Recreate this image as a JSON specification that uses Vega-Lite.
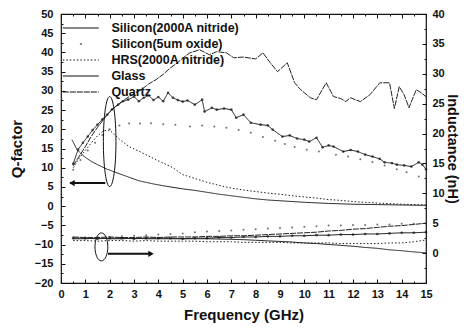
{
  "$schema": "https://vega.github.io/schema/vega-lite/v6.json",
  "width": 365,
  "height": 269,
  "autosize": {"type": "none"},
  "padding": {"left": 61, "top": 14, "right": 43, "bottom": 50},
  "background": "white",
  "config": {
    "view": {"stroke": "#111", "strokeWidth": 1.2},
    "font": "Liberation Sans",
    "axis": {
      "labelFont": "Liberation Sans", "labelFontWeight": "bold", "labelFontSize": 11, "labelColor": "#111",
      "titleFont": "Liberation Sans", "titleFontWeight": "bold", "titleFontSize": 15, "titleColor": "#111",
      "grid": false, "domain": false, "tickColor": "#111", "tickWidth": 1,
      "tickSize": {"condition": {"test": "datum.value % 1 !== 0 || (datum.value % 5 !== 0 && abs(datum.value) > 16)", "value": -2}, "value": -4}
    }
  },
  "datasets": {
    "q": [
      {"s":"Quartz","f":0.5,"v":10.5},{"s":"Quartz","f":0.75,"v":13},{"s":"Quartz","f":1,"v":15.5},{"s":"Quartz","f":1.25,"v":18.2},{"s":"Quartz","f":1.5,"v":20.5},{"s":"Quartz","f":1.75,"v":22.6},{"s":"Quartz","f":2,"v":24.5},{"s":"Quartz","f":2.25,"v":26},{"s":"Quartz","f":2.5,"v":27.2},{"s":"Quartz","f":2.75,"v":28.3},{"s":"Quartz","f":3,"v":29.3},{"s":"Quartz","f":3.3,"v":30.3},{"s":"Quartz","f":3.6,"v":31.8},{"s":"Quartz","f":3.9,"v":32.9},{"s":"Quartz","f":4.2,"v":34.3},{"s":"Quartz","f":4.5,"v":36},{"s":"Quartz","f":4.8,"v":37.4},{"s":"Quartz","f":5,"v":38.5},{"s":"Quartz","f":5.3,"v":39.9},{"s":"Quartz","f":5.7,"v":40.7},{"s":"Quartz","f":6.1,"v":39.4},{"s":"Quartz","f":6.4,"v":40.2},{"s":"Quartz","f":6.8,"v":39.9},{"s":"Quartz","f":7.1,"v":38.6},{"s":"Quartz","f":7.5,"v":38.8},{"s":"Quartz","f":8,"v":38.3},{"s":"Quartz","f":8.3,"v":39.9},{"s":"Quartz","f":8.6,"v":37.3},{"s":"Quartz","f":8.9,"v":35},{"s":"Quartz","f":9.3,"v":37.3},{"s":"Quartz","f":9.6,"v":32.1},{"s":"Quartz","f":9.85,"v":30.3},{"s":"Quartz","f":10.25,"v":28.2},{"s":"Quartz","f":10.5,"v":27.7},{"s":"Quartz","f":10.9,"v":32.1},{"s":"Quartz","f":11.2,"v":28.5},{"s":"Quartz","f":11.5,"v":28},{"s":"Quartz","f":11.7,"v":27.2},{"s":"Quartz","f":11.9,"v":28.2},{"s":"Quartz","f":12.3,"v":27.2},{"s":"Quartz","f":12.7,"v":29},{"s":"Quartz","f":13.1,"v":32.1},{"s":"Quartz","f":13.5,"v":32.1},{"s":"Quartz","f":13.7,"v":25.4},{"s":"Quartz","f":13.9,"v":31.1},{"s":"Quartz","f":14.1,"v":29},{"s":"Quartz","f":14.3,"v":25.6},{"s":"Quartz","f":14.6,"v":30.3},{"s":"Quartz","f":14.8,"v":29.5},{"s":"Quartz","f":15,"v":28.5},
      {"s":"Glass","f":0.5,"v":11},{"s":"Glass","f":0.7,"v":14.7},{"s":"Glass","f":0.9,"v":16.5},{"s":"Glass","f":1.1,"v":18.1},{"s":"Glass","f":1.3,"v":19.8},{"s":"Glass","f":1.5,"v":21.2},{"s":"Glass","f":1.7,"v":22.6},{"s":"Glass","f":1.9,"v":23.8},{"s":"Glass","f":2.1,"v":25.2},{"s":"Glass","f":2.35,"v":26.4},{"s":"Glass","f":2.55,"v":27.3},{"s":"Glass","f":2.76,"v":27.7},{"s":"Glass","f":3,"v":28.5},{"s":"Glass","f":3.2,"v":27.3},{"s":"Glass","f":3.4,"v":28.2},{"s":"Glass","f":3.6,"v":28.8},{"s":"Glass","f":3.8,"v":27.6},{"s":"Glass","f":4,"v":28.4},{"s":"Glass","f":4.2,"v":27.3},{"s":"Glass","f":4.4,"v":29.5},{"s":"Glass","f":4.6,"v":28.2},{"s":"Glass","f":4.8,"v":27.6},{"s":"Glass","f":5,"v":27.2},{"s":"Glass","f":5.2,"v":27.5},{"s":"Glass","f":5.5,"v":26.4},{"s":"Glass","f":5.8,"v":27.7},{"s":"Glass","f":5.9,"v":24.6},{"s":"Glass","f":6.2,"v":25.6},{"s":"Glass","f":6.4,"v":25.1},{"s":"Glass","f":6.7,"v":25.4},{"s":"Glass","f":7,"v":25.1},{"s":"Glass","f":7.2,"v":23},{"s":"Glass","f":7.5,"v":23.8},{"s":"Glass","f":7.8,"v":21.7},{"s":"Glass","f":8.2,"v":21.2},{"s":"Glass","f":8.5,"v":21},{"s":"Glass","f":8.7,"v":19.9},{"s":"Glass","f":9.1,"v":18.1},{"s":"Glass","f":9.4,"v":18.4},{"s":"Glass","f":9.7,"v":17.6},{"s":"Glass","f":10,"v":17.3},{"s":"Glass","f":10.2,"v":16.8},{"s":"Glass","f":10.5,"v":17.8},{"s":"Glass","f":10.75,"v":15.3},{"s":"Glass","f":11,"v":15.8},{"s":"Glass","f":11.2,"v":15.5},{"s":"Glass","f":11.6,"v":14.2},{"s":"Glass","f":11.9,"v":14.6},{"s":"Glass","f":12.2,"v":14.2},{"s":"Glass","f":12.5,"v":13.4},{"s":"Glass","f":12.8,"v":12.9},{"s":"Glass","f":13.1,"v":12.3},{"s":"Glass","f":13.3,"v":11.4},{"s":"Glass","f":13.6,"v":11.2},{"s":"Glass","f":13.8,"v":10.8},{"s":"Glass","f":14.1,"v":10.6},{"s":"Glass","f":14.4,"v":10.3},{"s":"Glass","f":14.7,"v":11.4},{"s":"Glass","f":14.85,"v":10.8},{"s":"Glass","f":15,"v":9.6},
      {"s":"HRS(2000A nitride)","f":0.5,"v":10},{"s":"HRS(2000A nitride)","f":0.75,"v":12.5},{"s":"HRS(2000A nitride)","f":1,"v":14.5},{"s":"HRS(2000A nitride)","f":1.25,"v":16.5},{"s":"HRS(2000A nitride)","f":1.5,"v":18.3},{"s":"HRS(2000A nitride)","f":1.75,"v":19.6},{"s":"HRS(2000A nitride)","f":2,"v":19.8},{"s":"HRS(2000A nitride)","f":2.2,"v":18.6},{"s":"HRS(2000A nitride)","f":2.4,"v":17.4},{"s":"HRS(2000A nitride)","f":2.8,"v":15.5},{"s":"HRS(2000A nitride)","f":3.3,"v":14},{"s":"HRS(2000A nitride)","f":3.9,"v":12.1},{"s":"HRS(2000A nitride)","f":4.6,"v":10},{"s":"HRS(2000A nitride)","f":5,"v":8.2},{"s":"HRS(2000A nitride)","f":5.5,"v":7.2},{"s":"HRS(2000A nitride)","f":6,"v":6.2},{"s":"HRS(2000A nitride)","f":6.5,"v":5.4},{"s":"HRS(2000A nitride)","f":7,"v":4.7},{"s":"HRS(2000A nitride)","f":7.5,"v":4.2},{"s":"HRS(2000A nitride)","f":8,"v":3.8},{"s":"HRS(2000A nitride)","f":8.5,"v":3.4},{"s":"HRS(2000A nitride)","f":9,"v":3.1},{"s":"HRS(2000A nitride)","f":9.5,"v":2.7},{"s":"HRS(2000A nitride)","f":10,"v":2.4},{"s":"HRS(2000A nitride)","f":10.5,"v":2.1},{"s":"HRS(2000A nitride)","f":11,"v":1.7},{"s":"HRS(2000A nitride)","f":11.5,"v":1.5},{"s":"HRS(2000A nitride)","f":12,"v":1.2},{"s":"HRS(2000A nitride)","f":13,"v":0.8},{"s":"HRS(2000A nitride)","f":14,"v":0.5},{"s":"HRS(2000A nitride)","f":15,"v":0.3},
      {"s":"Silicon(2000A nitride)","f":0.45,"v":17.3},{"s":"Silicon(2000A nitride)","f":0.66,"v":14.7},{"s":"Silicon(2000A nitride)","f":0.85,"v":13.5},{"s":"Silicon(2000A nitride)","f":1,"v":12.7},{"s":"Silicon(2000A nitride)","f":1.25,"v":11.6},{"s":"Silicon(2000A nitride)","f":1.5,"v":10.8},{"s":"Silicon(2000A nitride)","f":1.9,"v":9.6},{"s":"Silicon(2000A nitride)","f":2.5,"v":8.2},{"s":"Silicon(2000A nitride)","f":3.2,"v":6.6},{"s":"Silicon(2000A nitride)","f":3.7,"v":5.9},{"s":"Silicon(2000A nitride)","f":4.2,"v":5.3},{"s":"Silicon(2000A nitride)","f":5,"v":4.5},{"s":"Silicon(2000A nitride)","f":5.5,"v":4.1},{"s":"Silicon(2000A nitride)","f":6,"v":3.6},{"s":"Silicon(2000A nitride)","f":6.5,"v":3.1},{"s":"Silicon(2000A nitride)","f":7,"v":2.7},{"s":"Silicon(2000A nitride)","f":7.5,"v":2.3},{"s":"Silicon(2000A nitride)","f":8,"v":1.9},{"s":"Silicon(2000A nitride)","f":8.5,"v":1.6},{"s":"Silicon(2000A nitride)","f":9,"v":1.4},{"s":"Silicon(2000A nitride)","f":9.5,"v":1.2},{"s":"Silicon(2000A nitride)","f":10,"v":1},{"s":"Silicon(2000A nitride)","f":11,"v":0.7},{"s":"Silicon(2000A nitride)","f":12,"v":0.5},{"s":"Silicon(2000A nitride)","f":13,"v":0.4},{"s":"Silicon(2000A nitride)","f":14,"v":0.3},{"s":"Silicon(2000A nitride)","f":15,"v":0.2},
      {"s":"Silicon(5um oxide)","f":0.5,"v":9.5},{"s":"Silicon(5um oxide)","f":0.8,"v":12},{"s":"Silicon(5um oxide)","f":1.1,"v":14.5},{"s":"Silicon(5um oxide)","f":1.4,"v":16.5},{"s":"Silicon(5um oxide)","f":1.7,"v":18.5},{"s":"Silicon(5um oxide)","f":2,"v":20},{"s":"Silicon(5um oxide)","f":2.4,"v":21},{"s":"Silicon(5um oxide)","f":2.8,"v":21.5},{"s":"Silicon(5um oxide)","f":3.25,"v":21.5},{"s":"Silicon(5um oxide)","f":3.7,"v":21.6},{"s":"Silicon(5um oxide)","f":4.2,"v":21.3},{"s":"Silicon(5um oxide)","f":4.7,"v":21.2},{"s":"Silicon(5um oxide)","f":5.3,"v":20.7},{"s":"Silicon(5um oxide)","f":5.8,"v":21},{"s":"Silicon(5um oxide)","f":6.3,"v":20.7},{"s":"Silicon(5um oxide)","f":6.8,"v":20.4},{"s":"Silicon(5um oxide)","f":7.3,"v":19.8},{"s":"Silicon(5um oxide)","f":7.8,"v":19.1},{"s":"Silicon(5um oxide)","f":8.3,"v":18},{"s":"Silicon(5um oxide)","f":8.8,"v":17},{"s":"Silicon(5um oxide)","f":9.2,"v":16.2},{"s":"Silicon(5um oxide)","f":9.6,"v":15.4},{"s":"Silicon(5um oxide)","f":10.1,"v":14.7},{"s":"Silicon(5um oxide)","f":10.6,"v":14.2},{"s":"Silicon(5um oxide)","f":11.3,"v":13.4},{"s":"Silicon(5um oxide)","f":11.8,"v":12.9},{"s":"Silicon(5um oxide)","f":12.3,"v":12.2},{"s":"Silicon(5um oxide)","f":12.8,"v":11.5},{"s":"Silicon(5um oxide)","f":13.3,"v":10.6},{"s":"Silicon(5um oxide)","f":13.8,"v":9.6},{"s":"Silicon(5um oxide)","f":14.2,"v":8.8},{"s":"Silicon(5um oxide)","f":14.7,"v":7.7},{"s":"Silicon(5um oxide)","f":15,"v":7.2}
    ],
    "l": [
      {"s":"Quartz","f":0.5,"v":2.7},{"s":"Quartz","f":1,"v":2.6},{"s":"Quartz","f":1.5,"v":2.6},{"s":"Quartz","f":2,"v":2.7},{"s":"Quartz","f":2.5,"v":2.6},{"s":"Quartz","f":3,"v":2.6},{"s":"Quartz","f":3.5,"v":2.7},{"s":"Quartz","f":4,"v":2.6},{"s":"Quartz","f":4.5,"v":2.7},{"s":"Quartz","f":5,"v":2.7},{"s":"Quartz","f":5.5,"v":2.7},{"s":"Quartz","f":6,"v":2.8},{"s":"Quartz","f":6.5,"v":2.8},{"s":"Quartz","f":7,"v":2.9},{"s":"Quartz","f":7.5,"v":2.9},{"s":"Quartz","f":8,"v":3},{"s":"Quartz","f":8.5,"v":3.1},{"s":"Quartz","f":9,"v":3.2},{"s":"Quartz","f":9.5,"v":3.3},{"s":"Quartz","f":10,"v":3.4},{"s":"Quartz","f":10.5,"v":3.5},{"s":"Quartz","f":11,"v":3.7},{"s":"Quartz","f":11.5,"v":3.8},{"s":"Quartz","f":12,"v":4},{"s":"Quartz","f":12.5,"v":4.1},{"s":"Quartz","f":13,"v":4.3},{"s":"Quartz","f":13.5,"v":4.5},{"s":"Quartz","f":14,"v":4.6},{"s":"Quartz","f":14.5,"v":4.8},{"s":"Quartz","f":15,"v":5},
      {"s":"Glass","f":0.5,"v":2.5},{"s":"Glass","f":1,"v":2.5},{"s":"Glass","f":1.5,"v":2.4},{"s":"Glass","f":2,"v":2.5},{"s":"Glass","f":2.5,"v":2.5},{"s":"Glass","f":3,"v":2.4},{"s":"Glass","f":3.5,"v":2.5},{"s":"Glass","f":4,"v":2.5},{"s":"Glass","f":4.5,"v":2.5},{"s":"Glass","f":5,"v":2.4},{"s":"Glass","f":5.5,"v":2.5},{"s":"Glass","f":6,"v":2.5},{"s":"Glass","f":6.5,"v":2.6},{"s":"Glass","f":7,"v":2.6},{"s":"Glass","f":7.5,"v":2.7},{"s":"Glass","f":8,"v":2.7},{"s":"Glass","f":8.5,"v":2.8},{"s":"Glass","f":9,"v":2.8},{"s":"Glass","f":9.5,"v":2.9},{"s":"Glass","f":10,"v":2.9},{"s":"Glass","f":10.5,"v":3},{"s":"Glass","f":11,"v":3},{"s":"Glass","f":11.5,"v":3.1},{"s":"Glass","f":12,"v":3.1},{"s":"Glass","f":12.5,"v":3.2},{"s":"Glass","f":13,"v":3.2},{"s":"Glass","f":13.5,"v":3.3},{"s":"Glass","f":14,"v":3.4},{"s":"Glass","f":14.5,"v":3.4},{"s":"Glass","f":15,"v":3.5},
      {"s":"Silicon(2000A nitride)","f":0.5,"v":2.4},{"s":"Silicon(2000A nitride)","f":1,"v":2.4},{"s":"Silicon(2000A nitride)","f":1.5,"v":2.5},{"s":"Silicon(2000A nitride)","f":2,"v":2.4},{"s":"Silicon(2000A nitride)","f":2.5,"v":2.4},{"s":"Silicon(2000A nitride)","f":3,"v":2.5},{"s":"Silicon(2000A nitride)","f":3.5,"v":2.4},{"s":"Silicon(2000A nitride)","f":4,"v":2.4},{"s":"Silicon(2000A nitride)","f":4.5,"v":2.4},{"s":"Silicon(2000A nitride)","f":5,"v":2.4},{"s":"Silicon(2000A nitride)","f":5.5,"v":2.4},{"s":"Silicon(2000A nitride)","f":6,"v":2.4},{"s":"Silicon(2000A nitride)","f":6.5,"v":2.35},{"s":"Silicon(2000A nitride)","f":7,"v":2.3},{"s":"Silicon(2000A nitride)","f":7.5,"v":2.25},{"s":"Silicon(2000A nitride)","f":8,"v":2.15},{"s":"Silicon(2000A nitride)","f":8.5,"v":2.05},{"s":"Silicon(2000A nitride)","f":9,"v":1.95},{"s":"Silicon(2000A nitride)","f":9.5,"v":1.85},{"s":"Silicon(2000A nitride)","f":10,"v":1.7},{"s":"Silicon(2000A nitride)","f":10.5,"v":1.6},{"s":"Silicon(2000A nitride)","f":11,"v":1.45},{"s":"Silicon(2000A nitride)","f":11.5,"v":1.3},{"s":"Silicon(2000A nitride)","f":12,"v":1.15},{"s":"Silicon(2000A nitride)","f":12.5,"v":0.95},{"s":"Silicon(2000A nitride)","f":13,"v":0.8},{"s":"Silicon(2000A nitride)","f":13.5,"v":0.55},{"s":"Silicon(2000A nitride)","f":14,"v":0.4},{"s":"Silicon(2000A nitride)","f":14.5,"v":0.2},{"s":"Silicon(2000A nitride)","f":15,"v":0.05},
      {"s":"HRS(2000A nitride)","f":0.5,"v":2.1},{"s":"HRS(2000A nitride)","f":1,"v":2.1},{"s":"HRS(2000A nitride)","f":1.5,"v":2},{"s":"HRS(2000A nitride)","f":2,"v":2.1},{"s":"HRS(2000A nitride)","f":2.5,"v":2.1},{"s":"HRS(2000A nitride)","f":3,"v":2},{"s":"HRS(2000A nitride)","f":3.5,"v":2.1},{"s":"HRS(2000A nitride)","f":4,"v":2},{"s":"HRS(2000A nitride)","f":4.5,"v":2},{"s":"HRS(2000A nitride)","f":5,"v":2},{"s":"HRS(2000A nitride)","f":5.5,"v":2},{"s":"HRS(2000A nitride)","f":6,"v":1.9},{"s":"HRS(2000A nitride)","f":6.5,"v":1.9},{"s":"HRS(2000A nitride)","f":7,"v":1.9},{"s":"HRS(2000A nitride)","f":7.5,"v":1.8},{"s":"HRS(2000A nitride)","f":8,"v":1.8},{"s":"HRS(2000A nitride)","f":8.5,"v":1.8},{"s":"HRS(2000A nitride)","f":9,"v":1.8},{"s":"HRS(2000A nitride)","f":9.5,"v":1.7},{"s":"HRS(2000A nitride)","f":10,"v":1.7},{"s":"HRS(2000A nitride)","f":10.5,"v":1.7},{"s":"HRS(2000A nitride)","f":11,"v":1.7},{"s":"HRS(2000A nitride)","f":11.5,"v":1.6},{"s":"HRS(2000A nitride)","f":12,"v":1.6},{"s":"HRS(2000A nitride)","f":12.5,"v":1.6},{"s":"HRS(2000A nitride)","f":13,"v":1.6},{"s":"HRS(2000A nitride)","f":13.5,"v":1.7},{"s":"HRS(2000A nitride)","f":14,"v":1.7},{"s":"HRS(2000A nitride)","f":14.5,"v":1.9},{"s":"HRS(2000A nitride)","f":15,"v":2.2},
      {"s":"Silicon(5um oxide)","f":0.5,"v":2.6},{"s":"Silicon(5um oxide)","f":1,"v":2.6},{"s":"Silicon(5um oxide)","f":1.5,"v":2.7},{"s":"Silicon(5um oxide)","f":2,"v":2.7},{"s":"Silicon(5um oxide)","f":2.5,"v":2.8},{"s":"Silicon(5um oxide)","f":3,"v":2.9},{"s":"Silicon(5um oxide)","f":3.5,"v":3},{"s":"Silicon(5um oxide)","f":4,"v":3.1},{"s":"Silicon(5um oxide)","f":4.5,"v":3.2},{"s":"Silicon(5um oxide)","f":5,"v":3.3},{"s":"Silicon(5um oxide)","f":5.5,"v":3.5},{"s":"Silicon(5um oxide)","f":6,"v":3.6},{"s":"Silicon(5um oxide)","f":6.5,"v":3.7},{"s":"Silicon(5um oxide)","f":7,"v":3.8},{"s":"Silicon(5um oxide)","f":7.5,"v":3.9},{"s":"Silicon(5um oxide)","f":8,"v":4},{"s":"Silicon(5um oxide)","f":8.5,"v":4.1},{"s":"Silicon(5um oxide)","f":9,"v":4.2},{"s":"Silicon(5um oxide)","f":9.5,"v":4.3},{"s":"Silicon(5um oxide)","f":10,"v":4.4},{"s":"Silicon(5um oxide)","f":10.5,"v":4.5},{"s":"Silicon(5um oxide)","f":11,"v":4.6},{"s":"Silicon(5um oxide)","f":11.5,"v":4.6},{"s":"Silicon(5um oxide)","f":12,"v":4.7},{"s":"Silicon(5um oxide)","f":12.5,"v":4.7},{"s":"Silicon(5um oxide)","f":13,"v":4.8},{"s":"Silicon(5um oxide)","f":13.5,"v":4.8},{"s":"Silicon(5um oxide)","f":14,"v":4.9},{"s":"Silicon(5um oxide)","f":14.5,"v":4.9},{"s":"Silicon(5um oxide)","f":15,"v":5}
    ],
    "ann": [
      {"k":"e1","f":2.0,"v":16.8},
      {"k":"e2","f":1.66,"v":-10.6},
      {"k":"a1","f":0.37,"v":6.0},{"k":"a1","f":1.82,"v":6.0},
      {"k":"a2","f":1.93,"v":-12.4},{"k":"a2","f":3.72,"v":-12.4},
      {"k":"h1","f":0.45,"v":6.0},
      {"k":"h2","f":3.7,"v":-12.4}
    ]
  },
  "layer": [
    {
      "encoding": {
        "x": {"field":"f","type":"quantitative","scale":{"domain":[0,15],"nice":false,"zero":false},
              "axis":{"orient":"bottom","values":[0,0.5,1,1.5,2,2.5,3,3.5,4,4.5,5,5.5,6,6.5,7,7.5,8,8.5,9,9.5,10,10.5,11,11.5,12,12.5,13,13.5,14,14.5,15],"labelExpr":"datum.value % 1 === 0 ? format(datum.value, 'd') : ''","labelPadding":9,"title":"Frequency (GHz)","titlePadding":8,"labelFlush":false}},
        "y": {"field":"v","type":"quantitative","scale":{"domain":[-20,50],"nice":false,"zero":false},
              "axis":{"orient":"left","values":[-20,-17.5,-15,-12.5,-10,-7.5,-5,-2.5,0,2.5,5,7.5,10,12.5,15,17.5,20,22.5,25,27.5,30,32.5,35,37.5,40,42.5,45,47.5,50],"labelExpr":"datum.value % 5 === 0 ? format(datum.value, 'd') : ''","labelPadding":12,"title":"Q-factor","titlePadding":10}}
      },
      "layer": [
        {
          "data": {"name":"q"},
          "transform": [{"filter":"datum.s !== 'Silicon(5um oxide)'"}],
          "mark": {"type":"line","stroke":"#222","strokeWidth":1},
          "encoding": {
            "strokeDash": {"field":"s","type":"nominal",
              "scale":{"domain":["Silicon(2000A nitride)","Silicon(5um oxide)","HRS(2000A nitride)","Glass","Quartz"],
                       "range":[[1,0],[0.1,17,2,40],[1.5,2],[1,0],[6,1]]},
              "legend":{"orient":"none","legendX":11.8,"legendY":6,"title":null,"symbolType":"M-2.5,0L2.5,0","symbolSize":207,
                        "symbolStrokeColor":"#111","symbolStrokeWidth":1.2,"labelFont":"Liberation Sans","labelFontSize":12.5,
                        "labelFontWeight":"bold","labelColor":"#111","labelOffset":22.6,"rowPadding":1,"padding":0}}
          }
        },
        {
          "data": {"name":"q"},
          "transform": [{"filter":"datum.s === 'Glass'"}],
          "mark": {"type":"point","filled":true,"color":"#111","size":7}
        },
        {
          "data": {"name":"q"},
          "transform": [{"filter":"datum.s === 'Silicon(5um oxide)'"}],
          "mark": {"type":"point","filled":true,"color":"#333","size":4}
        },
        {
          "mark": {"type":"rule","stroke":"#111","strokeWidth":1.5},
          "encoding": {"x":{"datum":0},"x2":{"datum":15},"y":{"datum":0}}
        },
        {
          "data": {"name":"ann"},
          "transform": [{"filter":"datum.k === 'e1'"}],
          "mark": {"type":"point","shape":"M0,-1A0.14,1,0,1,1,0,1A0.14,1,0,1,1,0,-1Z","size":8100,"stroke":"#111","strokeWidth":1,"filled":false,"opacity":1}
        },
        {
          "data": {"name":"ann"},
          "transform": [{"filter":"datum.k === 'e2'"}],
          "mark": {"type":"point","shape":"M0,-1A0.46,1,0,1,1,0,1A0.46,1,0,1,1,0,-1Z","size":784,"stroke":"#111","strokeWidth":1,"filled":false,"opacity":1}
        },
        {
          "data": {"name":"ann"},
          "transform": [{"filter":"datum.k === 'a1' || datum.k === 'a2'"}],
          "mark": {"type":"line","stroke":"#111","strokeWidth":2},
          "encoding": {"detail":{"field":"k"}}
        },
        {
          "data": {"name":"ann"},
          "transform": [{"filter":"datum.k === 'h1'"}],
          "mark": {"type":"point","shape":"triangle-left","filled":true,"color":"#111","size":40,"opacity":1}
        },
        {
          "data": {"name":"ann"},
          "transform": [{"filter":"datum.k === 'h2'"}],
          "mark": {"type":"point","shape":"triangle-right","filled":true,"color":"#111","size":40,"opacity":1}
        }
      ]
    },
    {
      "data": {"name":"l"},
      "encoding": {
        "x": {"field":"f","type":"quantitative","scale":{"domain":[0,15],"nice":false,"zero":false},
              "axis":{"orient":"top","values":[0,0.5,1,1.5,2,2.5,3,3.5,4,4.5,5,5.5,6,6.5,7,7.5,8,8.5,9,9.5,10,10.5,11,11.5,12,12.5,13,13.5,14,14.5,15],"labels":false,"title":null}},
        "y": {"field":"v","type":"quantitative","scale":{"domain":[-5,40],"nice":false,"zero":false},
              "axis":{"orient":"right","values":[-5,-2.5,0,2.5,5,7.5,10,12.5,15,17.5,20,22.5,25,27.5,30,32.5,35,37.5,40],"labelExpr":"datum.value < 0 || datum.value % 5 !== 0 ? '' : format(datum.value, 'd')","labelPadding":10,"title":"Inductance (nH)","titleFontSize":14.5,"titlePadding":0}}
      },
      "layer": [
        {
          "transform": [{"filter":"datum.s !== 'Silicon(5um oxide)'"}],
          "mark": {"type":"line","stroke":"#222","strokeWidth":1},
          "encoding": {"strokeDash": {"field":"s","type":"nominal",
              "scale":{"domain":["Silicon(2000A nitride)","Silicon(5um oxide)","HRS(2000A nitride)","Glass","Quartz"],
                       "range":[[1,0],[0.1,17,2,40],[1.5,2],[1,0],[6,1]]},"legend":null}}
        },
        {
          "transform": [{"filter":"datum.s === 'Glass'"}],
          "mark": {"type":"point","filled":true,"color":"#111","size":7}
        },
        {
          "transform": [{"filter":"datum.s === 'Silicon(5um oxide)'"}],
          "mark": {"type":"point","filled":true,"color":"#333","size":4}
        }
      ]
    }
  ],
  "resolve": {"scale": {"y":"independent","x":"independent","strokeDash":"independent"}}
}
